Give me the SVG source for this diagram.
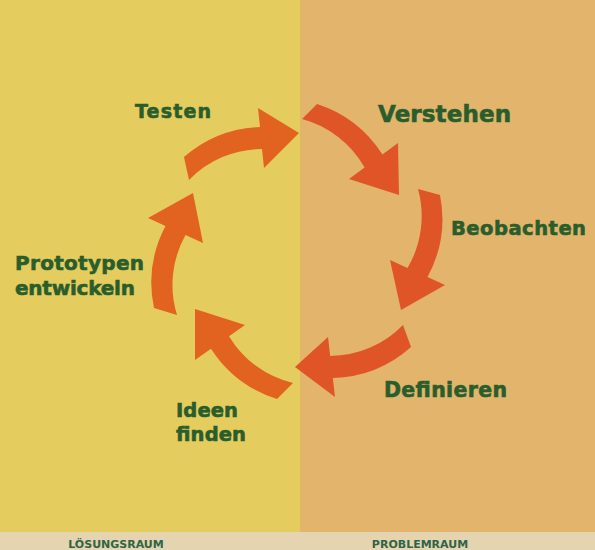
<svg xmlns="http://www.w3.org/2000/svg" width="595" height="550" viewBox="0 0 595 550">
  <style>
    .lbl { font-family: "DejaVu Sans", "Liberation Sans", sans-serif; font-weight: bold; fill: #2A5D2C; stroke: #2A5D2C; stroke-width: 0.6px; }
    .foot { font-family: "DejaVu Sans", "Liberation Sans", sans-serif; font-weight: bold; font-size: 11px; fill: #2E6447; text-anchor: middle; }
    .arrL { fill: #E2621F; }
    .arrR { fill: #DF5528; }
  </style>
  <g id="background">
    <rect x="0" y="0" width="300" height="532" fill="#E4CC5E"/>
    <rect x="300" y="0" width="295" height="532" fill="#E2B46C"/>
    <rect x="0" y="532" width="595" height="18" fill="#E5D4B0"/>
  </g>
  <g id="connectors">
    <path id="arrow-testen" class="arrL" d="M184,157 A122,122 0 0 1 260,127 L258,108 L299,133 L264,168 L262,149 A102,102 0 0 0 189,180 Z"/>
    <path id="arrow-verstehen" class="arrR" d="M317,104 A122,122 0 0 1 382.4,154.5 L398,143 L399,195 L349,179 L364.6,167.5 A102,102 0 0 0 302,119 Z"/>
    <path id="arrow-beobachten" class="arrR" d="M440,195 A122,122 0 0 1 427.5,277 L445,285 L401,310 L390,260 L407.5,268 A102,102 0 0 0 418,189 Z"/>
    <path id="arrow-definieren" class="arrR" d="M411,347 A122,122 0 0 1 332.8,378 L335,397 L295,367 L328,337 L330.2,356 A102,102 0 0 0 403,325 Z"/>
    <path id="arrow-ideen" class="arrL" d="M277,399 A122,122 0 0 1 211,348.8 L195,360 L195,309 L245,325 L229,336.2 A102,102 0 0 0 293,383 Z"/>
    <path id="arrow-prototypen" class="arrL" d="M154,308 A122,122 0 0 1 165.5,226 L148,218 L193,193 L203,243 L185.5,235 A102,102 0 0 0 177,315 Z"/>
  </g>
  <g id="node-testen">
    <text class="lbl" x="135" y="118" font-size="19" textLength="76">Testen</text>
  </g>
  <g id="node-verstehen">
    <text class="lbl" x="378" y="122" font-size="23" textLength="133">Verstehen</text>
  </g>
  <g id="node-beobachten">
    <text class="lbl" x="451" y="235" font-size="19.5" textLength="135">Beobachten</text>
  </g>
  <g id="node-definieren">
    <text class="lbl" x="384" y="396.5" font-size="20.5" textLength="123">Definieren</text>
  </g>
  <g id="node-ideen">
    <text class="lbl" x="176" y="416.5" font-size="19.5" textLength="62">Ideen</text>
    <text class="lbl" x="176" y="441" font-size="19.5" textLength="70">finden</text>
  </g>
  <g id="node-prototypen">
    <text class="lbl" x="15" y="269.5" font-size="20" textLength="129">Prototypen</text>
    <text class="lbl" x="15" y="295" font-size="20" textLength="120">entwickeln</text>
  </g>
  <g id="footer">
    <text class="foot" x="116" y="548">LÖSUNGSRAUM</text>
    <text class="foot" x="420" y="548">PROBLEMRAUM</text>
  </g>
</svg>
